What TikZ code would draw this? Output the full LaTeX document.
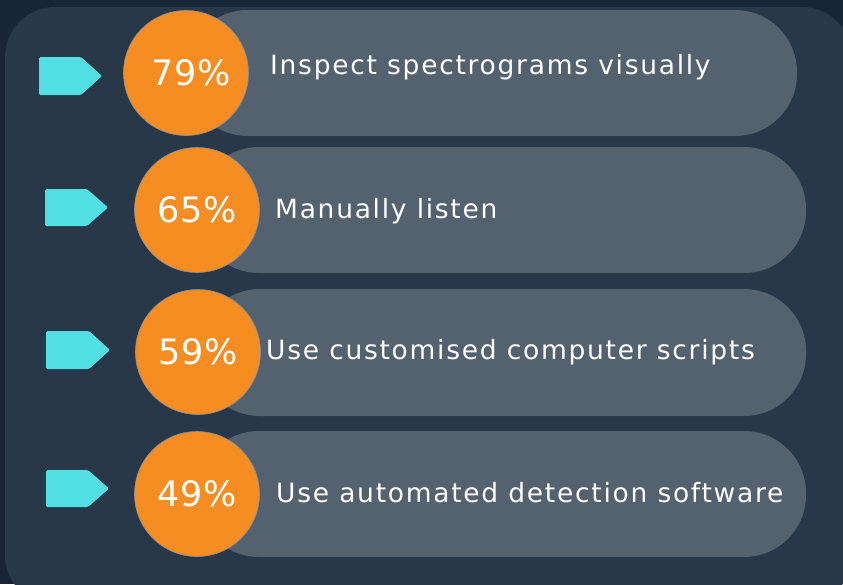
\documentclass[tikz,border=0pt]{standalone}
\usepackage{fontspec}
\setmainfont{DejaVu Sans}
\newfontfamily\lblfont[LetterSpace=6.5]{DejaVu Sans}
\newfontfamily\pctfont[LetterSpace=3]{DejaVu Sans}
\definecolor{outerbg}{HTML}{172536}
\definecolor{panelc}{HTML}{283848}
\definecolor{barc}{HTML}{53626E}
\definecolor{orangec}{HTML}{F58D22}
\definecolor{cyanc}{HTML}{52DFE3}
\tikzset{
  pct/.style={circle, fill=orangec, draw=barc!70, line width=0.6pt, minimum size=125pt, inner sep=0pt, text=white, font=\pctfont\fontsize{35}{40}\selectfont},
  lbl/.style={anchor=west, text=white, inner sep=0pt, font=\lblfont\fontsize{26.5}{30}\selectfont},
  tagc/.style={fill=cyanc, rounded corners=1.5pt},
  barfill/.style={fill=barc, rounded corners=62pt}
}
\begin{document}
\begin{tikzpicture}[x=1pt,y=-1pt]
\useasboundingbox (0,0) rectangle (843,584);
\fill[outerbg] (0,0) rectangle (843,584);
\fill[panelc, rounded corners=50pt] (5,7) rectangle (852,605);
% row 1
\fill[barfill] (186,10) rectangle (797,136);
\fill[tagc] (39,57) -- (81,57) -- (102,76) -- (81,95) -- (39,95) -- cycle;
\node[pct] (c1) at (186,73) {};
\node (p1) at (191,73) [text=white, font=\pctfont\fontsize{35}{40}\selectfont] {79\%};
\node[lbl] (l1) at (270,67) {Inspect spectrograms visually};
% row 2
\fill[barfill] (197,147) rectangle (806,273);
\fill[tagc] (45,189) -- (87,189) -- (108,207.5) -- (87,226) -- (45,226) -- cycle;
\node[pct] (c2) at (197,210) {65\%};
\node[lbl] (l2) at (275,211) {Manually listen};
% row 3
\fill[barfill] (198,289) rectangle (806,416);
\fill[tagc] (46,331) -- (89,331) -- (110,350) -- (89,369) -- (46,369) -- cycle;
\node[pct] (c3) at (198,352) {59\%};
\node[lbl] (l3) at (266,352) {Use customised computer scripts};
% row 4
\fill[barfill] (197,431) rectangle (806,557);
\fill[tagc] (46,470) -- (88,470) -- (109,488.5) -- (88,507) -- (46,507) -- cycle;
\node[pct] (c4) at (197,494) {49\%};
\node[lbl] (l4) at (276,493) {Use automated detection software};
\end{tikzpicture}
\end{document}
